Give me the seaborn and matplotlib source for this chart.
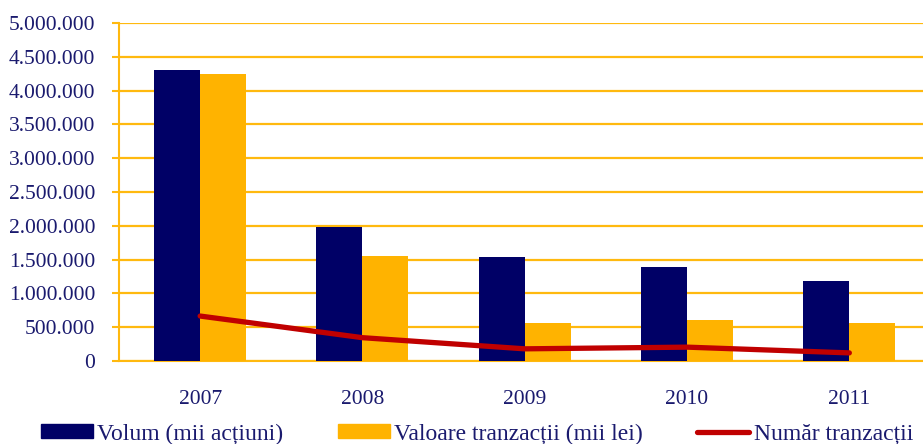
import pandas as pd
import numpy as np
import seaborn as sns
import matplotlib.pyplot as plt
from matplotlib.patches import Patch
from matplotlib.lines import Line2D
from matplotlib.ticker import FuncFormatter, MultipleLocator

## Data
years = ["2007", "2008", "2009", "2010", "2011"]
volum = [4300000, 1980000, 1540000, 1390000, 1180000]
valoare = [4250000, 1550000, 560000, 610000, 560000]
tranzactii = [665000, 345000, 180000, 205000, 120000]

navy = "#000066"
orange = "#FFB300"
red = "#C00000"
text_col = "#1a1a6e"
grid_col = "#FFB90F"

sns.set_style("white")
plt.rcParams['font.family'] = ['Liberation Serif', 'DejaVu Serif']

df = pd.DataFrame({
    "an": years * 2,
    "valoare": volum + valoare,
    "serie": ["Volum (mii acțiuni)"] * 5 + ["Valoare tranzacții (mii lei)"] * 5,
})

fig = plt.figure(figsize=(9.23, 4.44), dpi=100)
ax = fig.add_axes([119 / 923, 83 / 444, 811.5 / 923, 338 / 444])

sns.barplot(data=df, x="an", y="valoare", hue="serie", palette=[navy, orange],
            width=0.567, saturation=1, gap=0, linewidth=0, ax=ax, legend=False, zorder=3)
sns.lineplot(x=np.arange(len(years)), y=tranzactii, color=red, lw=3.8,
             solid_capstyle="round", ax=ax, zorder=4)

ax.set_xlim(-0.5, 4.5)
ax.set_ylim(0, 5000000)
ax.yaxis.set_major_locator(MultipleLocator(500000))
ax.yaxis.set_major_formatter(FuncFormatter(lambda v, p: f"{int(v):,}".replace(",", ".")))
ax.grid(axis="y", color=grid_col, lw=1.6, zorder=0)
ax.set_axisbelow(True)
ax.set_xlabel("")
ax.set_ylabel("")

ax.set_xticks(range(len(years)))
ax.set_xticklabels(years)
ax.set_xticks(np.arange(-0.5, 5, 1), minor=True)
ax.tick_params(axis="x", which="major", length=0, pad=21, labelsize=15.5, labelcolor=text_col)
ax.tick_params(axis="x", which="minor", length=6, width=1.5, color=grid_col, direction="out")
ax.tick_params(axis="y", length=5, width=1.5, color=grid_col, pad=12, labelsize=15.5,
               labelcolor=text_col, left=True)

for s in ["top", "right"]:
    ax.spines[s].set_visible(False)
ax.spines["left"].set_color(grid_col)
ax.spines["left"].set_linewidth(1.5)
ax.spines["bottom"].set_color(grid_col)
ax.spines["bottom"].set_linewidth(1.5)

handles = [Patch(color=navy), Patch(color=orange), Line2D([], [], color=red, lw=3.8)]
labels = ["Volum (mii acțiuni)", "Valoare tranzacții (mii lei)", "Număr tranzacții"]
fig.legend(handles, labels, loc="center", bbox_to_anchor=(477 / 923, 1 - 434 / 444), ncol=3,
           frameon=False, fontsize=17, labelcolor=text_col, handlelength=2.2,
           handleheight=0.55, handletextpad=0.2, columnspacing=2.3)

fig.savefig("out.png", dpi=100)
